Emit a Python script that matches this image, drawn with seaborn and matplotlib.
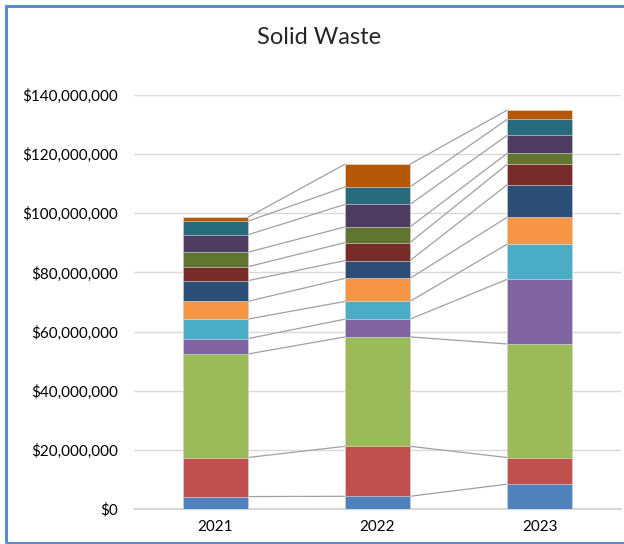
import numpy as np
import pandas as pd
import matplotlib
matplotlib.use("Agg")
import matplotlib.pyplot as plt
import seaborn as sns
from matplotlib.ticker import FuncFormatter
from matplotlib.patches import Rectangle

years = ["2021", "2022", "2023"]

# segment values in millions of dollars, bottom to top
series_names = ["Series 1", "Series 2", "Series 3", "Series 4", "Series 5", "Series 6",
                "Series 7", "Series 8", "Series 9", "Series 10", "Series 11", "Series 12"]
s1 = [4.2, 4.3, 8.4]
s2 = [13.2, 16.9, 9.0]
s3 = [35.0, 37.0, 38.4]
s4 = [5.2, 6.0, 21.9]
s5 = [6.6, 6.0, 11.9]
s6 = [6.0, 7.8, 9.1]
s7 = [7.0, 6.0, 11.0]
s8 = [4.7, 6.1, 6.9]
s9 = [4.9, 5.3, 3.7]
s10 = [5.9, 7.6, 6.1]
s11 = [4.6, 5.9, 5.4]
s12 = [1.3, 7.7, 3.1]

colors = ["#4F81BD", "#C0504D", "#9BBB59", "#8064A2", "#4BACC6", "#F79646",
          "#2C4D75", "#772C2A", "#5F7530", "#4D3B62", "#276A7C", "#B65708"]

values = np.array([s1, s2, s3, s4, s5, s6, s7, s8, s9, s10, s11, s12]) * 1e6
cum = values.cumsum(axis=0)

sns.set_style("white")
plt.rcParams["font.family"] = ["Lato", "DejaVu Sans"]

fig = plt.figure(figsize=(6.24, 5.44), dpi=100)
ax = fig.add_axes([134 / 624, 35 / 544, 487 / 624, 414 / 544])

# draw cumulative bars from the top series down so each one covers the next
for i in range(len(series_names) - 1, -1, -1):
    df = pd.DataFrame({"year": years, "total": cum[i]})
    sns.barplot(data=df, x="year", y="total", color=colors[i], saturation=1,
                width=0.4, edgecolor="#e8e8e8", linewidth=0.4, ax=ax, zorder=3)

# series lines joining the top of each segment
half = 0.2
for i in range(len(series_names)):
    for j in range(len(years) - 1):
        ax.plot([j + half, j + 1 - half], [cum[i][j], cum[i][j + 1]],
                color="#a0a0a0", linewidth=0.9, zorder=2)

ax.set_ylim(0, 140e6)
ax.set_xlim(-0.5, 2.5)
ax.set_yticks(np.arange(0, 140e6 + 1, 20e6))
ax.yaxis.set_major_formatter(FuncFormatter(lambda v, p: f"${v:,.0f}"))
ax.grid(axis="y", color="#d9d9d9", linewidth=1, zorder=0)
ax.set_axisbelow(True)
for side in ["top", "right", "left"]:
    ax.spines[side].set_visible(False)
ax.spines["bottom"].set_color("#d0d0d0")
ax.spines["bottom"].set_linewidth(1.2)
ax.tick_params(axis="both", length=0, labelsize=11, colors="#000000")
ax.tick_params(axis="y", pad=11.5)
ax.tick_params(axis="x", pad=8)
ax.set_xlabel("")
ax.set_ylabel("")

fig.text(0.511, 0.931, "Solid Waste", ha="center", va="center", fontsize=17)

# chart outline, cut off on the right like the original
fig.patches.append(Rectangle((6 / 624, 1 / 544), 1.2, 537 / 544, transform=fig.transFigure,
                             fill=False, edgecolor="#5b8bc9", linewidth=2.2))

fig.savefig("out.png", dpi=100)
